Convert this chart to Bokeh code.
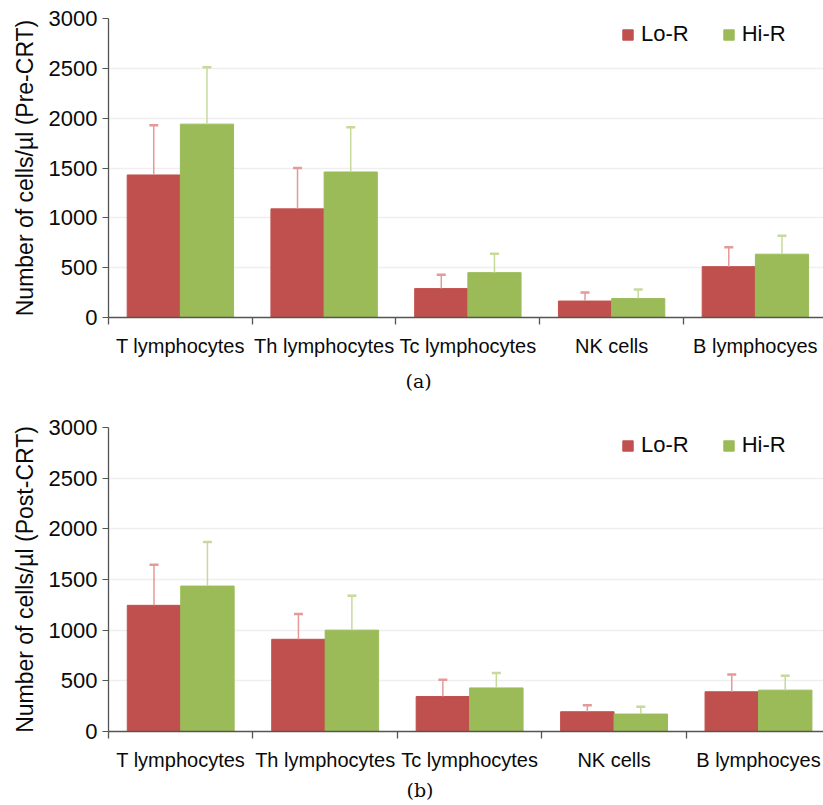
from bokeh.plotting import figure
from bokeh.models import (ColumnDataSource, Range1d, FixedTicker, Whisker, TeeHead,
                          Legend, LegendItem)
from bokeh.transform import dodge
from bokeh.layouts import column
from bokeh.embed import file_html
from bokeh.resources import INLINE

categories = ["T lymphocytes", "Th lymphocytes", "Tc lymphocytes", "NK cells", "B lymphocyes"]
series = ["Lo-R", "Hi-R"]

pre_lo = [1430, 1090, 290, 165, 510]
pre_lo_sd = [500, 410, 140, 85, 195]
pre_hi = [1940, 1460, 450, 190, 635]
pre_hi_sd = [570, 450, 190, 90, 185]

post_lo = [1245, 910, 345, 195, 392]
post_lo_sd = [400, 250, 165, 63, 170]
post_hi = [1435, 1000, 430, 172, 408]
post_hi_sd = [435, 340, 148, 72, 142]

y_ticks = [0, 500, 1000, 1500, 2000, 2500, 3000]

LO_COL = "#c0504d"
HI_COL = "#9bbb59"
LO_ERR = "#e49a99"
HI_ERR = "#c6da9c"
FONT = "Liberation Sans"
AXIS_COL = "#555555"
TXT = "#0a0a0a"


def make_panel(lo, lo_sd, hi, hi_sd, ylabel, caption, height, left, top, bottom, x_end,
               cap_standoff, legend_gap):
    pos = [i + 0.5 for i in range(len(categories))]
    src = ColumnDataSource(dict(
        x=pos, lo=lo, hi=hi,
        lo_up=[v + s for v, s in zip(lo, lo_sd)],
        hi_up=[v + s for v, s in zip(hi, hi_sd)],
    ))
    p = figure(width=823, height=height, output_backend="svg", toolbar_location=None,
               x_range=Range1d(0, x_end), y_range=Range1d(0, 3000),
               min_border_left=left, min_border_right=0, min_border_top=top,
               min_border_bottom=bottom, title_location="below")
    p.outline_line_color = None
    p.background_fill_color = "white"
    p.border_fill_color = "white"

    w = 0.37
    r_lo = p.vbar(x=dodge("x", -w / 2), top="lo", width=w, source=src,
                  fill_color=LO_COL, line_color=LO_COL)
    r_hi = p.vbar(x=dodge("x", w / 2), top="hi", width=w, source=src,
                  fill_color=HI_COL, line_color=HI_COL)

    for off, low, up, col in [(-w / 2, "lo", "lo_up", LO_ERR), (w / 2, "hi", "hi_up", HI_ERR)]:
        wh = Whisker(base=dodge("x", off), lower=low, upper=up, source=src,
                     line_color=col, line_width=1.5, lower_head=None,
                     upper_head=TeeHead(size=9, line_color=col, line_width=2.5),
                     level="overlay")
        p.add_layout(wh)

    # y axis
    p.yaxis.ticker = FixedTicker(ticks=y_ticks)
    p.yaxis.axis_line_color = AXIS_COL
    p.yaxis.axis_line_width = 1.3
    p.yaxis.major_tick_line_color = AXIS_COL
    p.yaxis.major_tick_out = 6
    p.yaxis.major_tick_in = 0
    p.yaxis.minor_tick_line_color = None
    p.yaxis.major_label_text_font = FONT
    p.yaxis.major_label_text_font_size = "22px"
    p.yaxis.major_label_text_color = TXT
    p.yaxis.major_label_standoff = 5
    p.yaxis.axis_label = ylabel
    p.yaxis.axis_label_text_font = FONT
    p.yaxis.axis_label_text_font_size = "23px"
    p.yaxis.axis_label_text_font_style = "normal"
    p.yaxis.axis_label_text_color = TXT
    p.yaxis.axis_label_standoff = 8

    # x axis with ticks at category boundaries
    p.xaxis.ticker = FixedTicker(ticks=pos, minor_ticks=list(range(len(categories) + 1)))
    p.xaxis.major_label_overrides = {x: c for x, c in zip(pos, categories)}
    p.xaxis.axis_line_color = AXIS_COL
    p.xaxis.axis_line_width = 1.3
    p.xaxis.major_tick_line_color = None
    p.xaxis.major_tick_out = 7
    p.xaxis.major_tick_in = 0
    p.xaxis.minor_tick_line_color = AXIS_COL
    p.xaxis.minor_tick_line_width = 1.3
    p.xaxis.minor_tick_out = 7
    p.xaxis.minor_tick_in = 0
    p.xaxis.major_label_text_font = FONT
    p.xaxis.major_label_text_font_size = "20px"
    p.xaxis.major_label_text_color = TXT
    p.xaxis.major_label_standoff = 10

    p.xgrid.grid_line_color = None
    p.ygrid.ticker = FixedTicker(ticks=y_ticks)
    p.ygrid.grid_line_color = "#efefef"
    p.ygrid.grid_line_width = 1.5

    frame_h = height - top - bottom
    legend = Legend(items=[LegendItem(label=series[0], renderers=[r_lo]),
                           LegendItem(label=series[1], renderers=[r_hi])],
                    orientation="horizontal", location=(513, frame_h - legend_gap - 22),
                    label_text_font=FONT, label_text_font_size="22px",
                    label_text_color=TXT,
                    glyph_width=13, glyph_height=13, label_standoff=7, spacing=33,
                    padding=0, margin=0, border_line_color=None,
                    background_fill_alpha=0, label_height=22)
    p.add_layout(legend)

    p.title.text = caption
    p.title.align = "left"
    p.title.offset = 417 - 12 - left
    p.title.text_font = "DejaVu Serif"
    p.title.text_font_size = "19px"
    p.title.text_font_style = "normal"
    p.title.text_color = TXT
    p.title.standoff = cap_standoff
    return p


p1 = make_panel(pre_lo, pre_lo_sd, pre_hi, pre_hi_sd, "Number of cells/µl (Pre-CRT)", "(a)",
                405, 108, 18, 88, 4.974, 16, 7)
p2 = make_panel(post_lo, post_lo_sd, post_hi, post_hi_sd, "Number of cells/µl (Post-CRT)", "(b)",
                400, 107, 22, 74, 4.95, 7, 9)

layout = column(p1, p2, spacing=0)
open("out.html", "w").write(file_html(layout, INLINE))
